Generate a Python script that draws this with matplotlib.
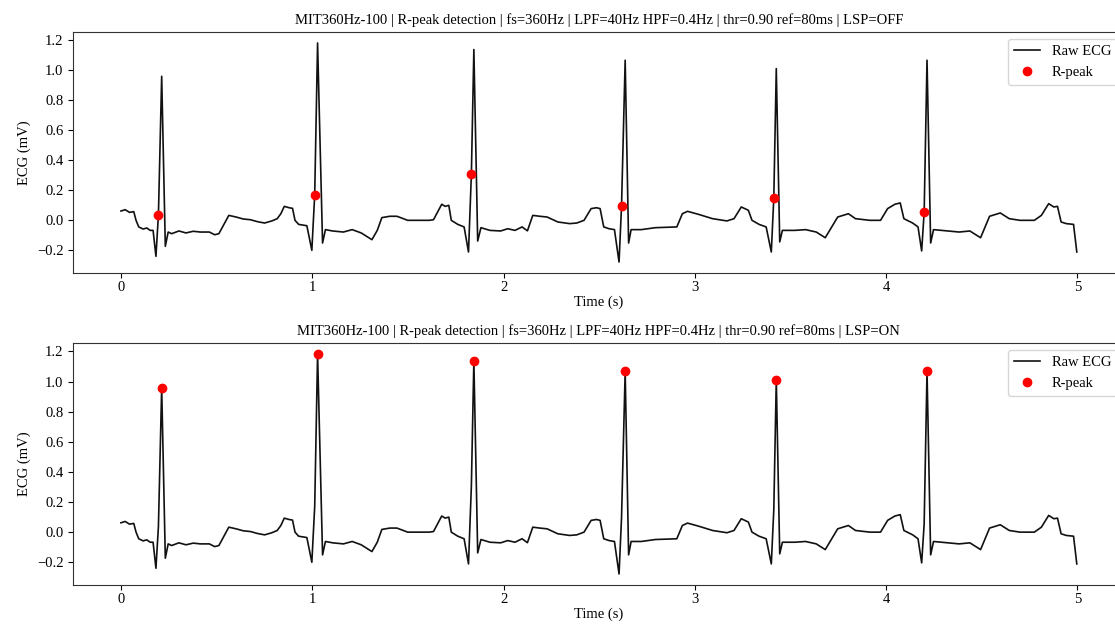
import numpy as np
import matplotlib
matplotlib.use('Agg')
import matplotlib.pyplot as plt

plt.rcParams['font.family'] = ['Liberation Serif', 'DejaVu Serif']
plt.rcParams['font.size'] = 10.5

# ECG trace (time in s, amplitude in mV)
ecg_t = [0.000, 0.022, 0.045, 0.067, 0.079, 0.093, 0.116, 0.135, 0.153, 0.168,
         0.183, 0.196, 0.213, 0.232, 0.247, 0.265, 0.303, 0.340, 0.378, 0.415,
         0.462, 0.490, 0.512, 0.564, 0.602, 0.639, 0.677, 0.714, 0.751, 0.789,
         0.817, 0.836, 0.854, 0.879, 0.897, 0.910, 0.929, 0.972,
         0.998, 1.013, 1.028, 1.054, 1.069, 1.107, 1.163, 1.209, 1.256, 1.312,
         1.340, 1.364, 1.406, 1.443, 1.499, 1.555, 1.611, 1.634, 1.677, 1.695,
         1.714, 1.727, 1.761, 1.794,
         1.817, 1.832, 1.845, 1.865, 1.882, 1.929, 1.985, 2.022, 2.060, 2.097,
         2.125, 2.153, 2.190, 2.228, 2.284, 2.346, 2.383, 2.421, 2.458, 2.486,
         2.505, 2.524, 2.552, 2.580,
         2.604, 2.617, 2.636, 2.654, 2.667, 2.720, 2.794, 2.906, 2.935, 2.962,
         3.019, 3.093, 3.168, 3.205, 3.243, 3.280, 3.299, 3.336, 3.373,
         3.400, 3.413, 3.426, 3.444, 3.458, 3.523, 3.579, 3.635, 3.682, 3.747,
         3.803, 3.840, 3.915, 3.971, 4.008, 4.046, 4.074, 4.093, 4.139, 4.167,
         4.186, 4.199, 4.214, 4.233, 4.248, 4.326, 4.382, 4.438, 4.494, 4.541,
         4.597, 4.644, 4.700, 4.775, 4.812, 4.850, 4.877, 4.896, 4.915, 4.942,
         4.980, 4.997]
ecg_v = [0.062, 0.071, 0.053, 0.058, 0.000, -0.044, -0.058, -0.051, -0.067, -0.067,
         -0.240, 0.038, 0.960, -0.173, -0.078, -0.089, -0.071, -0.084, -0.073, -0.078,
         -0.078, -0.096, -0.089, 0.033, 0.022, 0.009, 0.004, -0.009, -0.018, -0.004,
         0.011, 0.044, 0.093, 0.084, 0.080, 0.000, -0.027, -0.036,
         -0.200, 0.171, 1.182, -0.151, -0.062, -0.071, -0.078, -0.062, -0.084, -0.129,
         -0.067, 0.018, 0.027, 0.027, 0.000, 0.000, 0.000, 0.004, 0.107, 0.093,
         0.100, 0.000, -0.027, -0.044,
         -0.211, 0.307, 1.138, -0.138, -0.049, -0.067, -0.071, -0.056, -0.067, -0.044,
         -0.070, 0.033, 0.027, 0.022, -0.011, -0.022, -0.018, 0.000, 0.078, 0.084,
         0.078, -0.044, -0.056, -0.062,
         -0.278, 0.096, 1.067, -0.151, -0.062, -0.062, -0.049, -0.044, 0.044, 0.060,
         0.040, 0.011, -0.004, 0.011, 0.089, 0.067, 0.000, -0.027, -0.044,
         -0.211, 0.149, 1.011, -0.144, -0.067, -0.067, -0.062, -0.078, -0.116, 0.022,
         0.044, 0.011, 0.000, 0.000, 0.078, 0.107, 0.116, 0.011, -0.018, -0.044,
         -0.204, 0.053, 1.067, -0.151, -0.062, -0.071, -0.078, -0.071, -0.116, 0.027,
         0.049, 0.011, 0.000, 0.000, 0.033, 0.111, 0.089, 0.093, -0.011, -0.022,
         -0.027, -0.211]

# detected R-peaks (time, mV)
peaks_off_t = [0.196, 1.013, 1.832, 2.617, 3.413, 4.199]
peaks_off_v = [0.038, 0.171, 0.307, 0.096, 0.149, 0.053]
peaks_on_t = [0.213, 1.028, 1.845, 2.636, 3.426, 4.214]
peaks_on_v = [0.960, 1.182, 1.138, 1.067, 1.011, 1.067]

title_base = 'MIT360Hz-100 | R-peak detection | fs=360Hz | LPF=40Hz HPF=0.4Hz | thr=0.90 ref=80ms | LSP='

fig = plt.figure(figsize=(11.15, 6.25), dpi=100)
ax1 = fig.add_axes([0.0656, 0.5632, 0.943, 0.3856])
ax2 = fig.add_axes([0.0656, 0.064, 0.943, 0.387])

panels = [(ax1, peaks_off_t, peaks_off_v, 'OFF'),
          (ax2, peaks_on_t, peaks_on_v, 'ON')]

for ax, pt, pv, lsp in panels:
    ax.plot(ecg_t, ecg_v, color='#111111', lw=1.2, label='Raw ECG')
    ax.plot(pt, pv, 'o', color='red', markersize=6, label='R-peak')
    ax.set_title(title_base + lsp, fontsize=10.5, pad=6)
    ax.set_xlabel('Time (s)', labelpad=1)
    ax.set_ylabel('ECG (mV)')
    ax.set_yticks([-0.2, 0.0, 0.2, 0.4, 0.6, 0.8, 1.0, 1.2])
    ax.set_xticks([0, 1, 2, 3, 4, 5])
    ax.tick_params(axis='x', pad=2.5)
    ax.legend(loc='upper right', fontsize=10.5, handlelength=1.8)
    for s in ax.spines.values():
        s.set_color('#333333')

fig.savefig('out.png', dpi=100)
